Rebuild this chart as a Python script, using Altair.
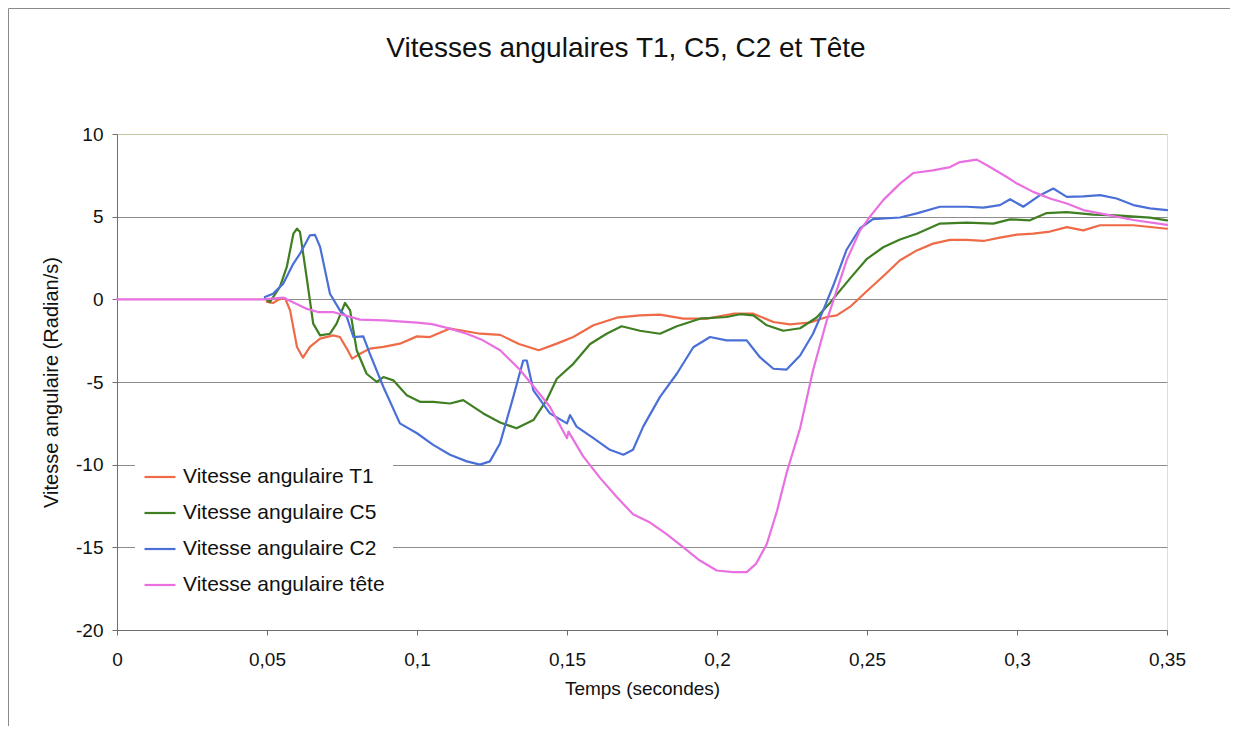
import altair as alt
import pandas as pd

FONT = "Liberation Sans"

chart_title = "Vitesses angulaires T1, C5, C2 et Tête"
series_names = ["Vitesse angulaire T1", "Vitesse angulaire C5",
                "Vitesse angulaire C2", "Vitesse angulaire tête"]
series_colors = ["#ef6a47", "#3f7f22", "#4a70d8", "#e870e0"]
series_widths = [2.2, 2.2, 2.2, 1.4]

x_ticks = [0, 0.05, 0.1, 0.15, 0.2, 0.25, 0.3, 0.35]
y_ticks = [-20, -15, -10, -5, 0, 5, 10]

t1_t = [0.050, 0.052, 0.054, 0.056, 0.0577, 0.060, 0.062, 0.0643, 0.0677, 0.072,
        0.0743, 0.0766, 0.0784, 0.081, 0.0843, 0.0888, 0.0943, 0.100, 0.1043, 0.111,
        0.1154, 0.121, 0.1277, 0.134, 0.1406, 0.1466, 0.1521, 0.1588, 0.1666, 0.1743,
        0.181, 0.1888, 0.1966, 0.2054, 0.2121, 0.2188, 0.2243, 0.231, 0.2366, 0.2399,
        0.2443, 0.250, 0.2554, 0.261, 0.2666, 0.272, 0.2777, 0.2832, 0.2888, 0.2943,
        0.300, 0.3054, 0.311, 0.3166, 0.3221, 0.3277, 0.3388, 0.350]
t1_v = [-0.16, -0.22, 0.0, 0.08, -0.67, -2.88, -3.53, -2.88, -2.38, -2.18,
        -2.28, -2.98, -3.59, -3.29, -2.98, -2.88, -2.68, -2.24, -2.28, -1.77,
        -1.9, -2.08, -2.15, -2.7, -3.08, -2.68, -2.28, -1.57, -1.11, -0.97,
        -0.93, -1.17, -1.17, -0.87, -0.87, -1.37, -1.51, -1.40, -1.07, -0.97,
        -0.46, 0.5, 1.4, 2.36, 2.96, 3.37, 3.6, 3.6, 3.53, 3.73,
        3.91, 3.97, 4.1, 4.37, 4.17, 4.48, 4.48, 4.27]

c5_t = [0.0493, 0.051, 0.0543, 0.0566, 0.0588, 0.060, 0.061, 0.0632, 0.0654, 0.0677,
        0.071, 0.0732, 0.076, 0.0777, 0.0799, 0.0832, 0.0866, 0.0888, 0.0921, 0.0966,
        0.101, 0.1054, 0.111, 0.1154, 0.1221, 0.1277, 0.1332, 0.1388, 0.1432, 0.1466,
        0.1521, 0.1577, 0.1632, 0.1682, 0.1743, 0.181, 0.1866, 0.1943, 0.2032, 0.2077,
        0.2121, 0.2166, 0.2221, 0.2277, 0.2332, 0.2377, 0.2443, 0.250, 0.2554, 0.261,
        0.2666, 0.2743, 0.2832, 0.2921, 0.2977, 0.3043, 0.3099, 0.3166, 0.3254, 0.3332,
        0.3443, 0.350]
c5_v = [0.04, -0.16, 0.75, 1.96, 3.97, 4.27, 4.07, 1.35, -1.47, -2.18,
        -2.08, -1.47, -0.22, -0.67, -3.08, -4.5, -5.0, -4.7, -4.9, -5.8,
        -6.2, -6.2, -6.3, -6.1, -6.9, -7.45, -7.8, -7.3, -6.1, -4.8,
        -3.9, -2.7, -2.08, -1.63, -1.9, -2.08, -1.63, -1.17, -1.07, -0.9,
        -0.97, -1.57, -1.9, -1.75, -1.1, -0.2, 1.25, 2.45, 3.15, 3.62,
        3.97, 4.58, 4.64, 4.58, 4.84, 4.78, 5.22, 5.28, 5.12, 5.08,
        4.94, 4.78]

c2_t = [0.0493, 0.052, 0.0554, 0.0588, 0.061, 0.0643, 0.066, 0.0677, 0.071, 0.0743,
        0.0766, 0.0788, 0.0821, 0.0843, 0.0888, 0.0943, 0.100, 0.1054, 0.111, 0.1166,
        0.121, 0.1243, 0.1277, 0.1321, 0.1354, 0.1366, 0.1388, 0.1443, 0.150, 0.151,
        0.1532, 0.1588, 0.1643, 0.1688, 0.172, 0.1754, 0.181, 0.1866, 0.1921, 0.1977,
        0.2032, 0.2099, 0.2143, 0.2188, 0.2232, 0.2277, 0.232, 0.2354, 0.2388, 0.2432,
        0.2477, 0.252, 0.261, 0.2666, 0.2743, 0.2832, 0.2888, 0.2943, 0.2977, 0.3021,
        0.3077, 0.3121, 0.3166, 0.3221, 0.3277, 0.3332, 0.3388, 0.3443, 0.350]
c2_v = [0.14, 0.34, 0.95, 2.16, 2.76, 3.87, 3.9, 3.17, 0.34, -0.67,
        -1.07, -2.28, -2.24, -3.3, -5.3, -7.5, -8.1, -8.8, -9.4, -9.8,
        -10.0, -9.8, -8.7, -5.9, -3.7, -3.7, -5.5, -6.9, -7.5, -7.0,
        -7.7, -8.4, -9.1, -9.4, -9.1, -7.7, -5.9, -4.5, -2.9, -2.28,
        -2.48, -2.48, -3.5, -4.2, -4.25, -3.4, -2.08, -0.67, 0.85, 3.0,
        4.3, 4.85, 4.95, 5.2, 5.6, 5.6, 5.55, 5.7, 6.05, 5.6,
        6.3, 6.7, 6.2, 6.23, 6.3, 6.1, 5.7, 5.5, 5.4]

tete_t = [0.0, 0.049, 0.0555, 0.063, 0.067, 0.072, 0.081, 0.089, 0.100, 0.105,
          0.111, 0.1166, 0.122, 0.1277, 0.134, 0.139, 0.1443, 0.1500, 0.1505, 0.1554,
          0.161, 0.1666, 0.172, 0.1777, 0.1832, 0.1888, 0.1943, 0.1999, 0.2054, 0.2099,
          0.213, 0.2166, 0.220, 0.2232, 0.2277, 0.232, 0.2366, 0.2388, 0.2432, 0.2477,
          0.251, 0.2554, 0.261, 0.2654, 0.272, 0.2777, 0.281, 0.2866, 0.291, 0.2966,
          0.300, 0.3054, 0.311, 0.3166, 0.3221, 0.3277, 0.3388, 0.350]
tete_v = [0, 0, 0.1, -0.56, -0.77, -0.77, -1.23, -1.27, -1.41, -1.5,
          -1.77, -2.08, -2.48, -3.08, -4.2, -5.3, -6.5, -8.4, -8.0, -9.5,
          -10.8, -11.95, -13.0, -13.5, -14.2, -15.0, -15.8, -16.4, -16.5, -16.5,
          -16.0, -14.8, -12.8, -10.5, -7.8, -4.3, -1.27, -0.06, 2.36, 4.17,
          5.0, 6.0, 7.0, 7.64, 7.8, 8.0, 8.3, 8.45, 8.0, 7.4,
          7.0, 6.5, 6.1, 5.8, 5.4, 5.2, 4.8, 4.5]

rows = []
for name, ts, vs in zip(series_names, [t1_t, c5_t, c2_t, tete_t], [t1_v, c5_v, c2_v, tete_v]):
    for i, (t, v) in enumerate(zip(ts, vs)):
        rows.append({"serie": name, "t": t, "v": v, "i": i})
df = pd.DataFrame(rows)

AX = "#6e6e6e"
LBL = "replace(toString(datum.value), '.', ',')"

lines = alt.Chart(df).mark_line(strokeJoin="round", strokeCap="round").encode(
    x=alt.X("t:Q",
            scale=alt.Scale(domain=[0, 0.35], nice=False, zero=False),
            axis=alt.Axis(values=x_ticks, title="Temps (secondes)",
                          labelExpr=LBL,
                          grid=False, tickSize=5, labelPadding=15, titlePadding=10,
                          labelFlush=False, labelOverlap=False,
                          domainColor=AX, tickColor=AX,
                          labelFont=FONT, titleFont=FONT,
                          labelFontSize=19, titleFontSize=19,
                          titleFontWeight="normal",
                          labelColor="#111111", titleColor="#111111")),
    y=alt.Y("v:Q",
            scale=alt.Scale(domain=[-20, 10], nice=False, zero=False),
            axis=alt.Axis(values=y_ticks, title="Vitesse angulaire (Radian/s)",
                          labelExpr=LBL,
                          grid=True,
                          gridColor={"condition": {"test": "datum.value === 10", "value": "#c4c49e"},
                                     "value": "#8c8c8c"},
                          gridWidth=1,
                          tickSize=5, labelPadding=9, titlePadding=14,
                          labelFlush=False, labelOverlap=False,
                          domainColor=AX, tickColor=AX,
                          labelFont=FONT, titleFont=FONT,
                          labelFontSize=19, titleFontSize=20,
                          titleFontWeight="normal",
                          labelColor="#111111", titleColor="#111111")),
    color=alt.Color("serie:N",
                    scale=alt.Scale(domain=series_names, range=series_colors),
                    sort=series_names,
                    legend=alt.Legend(title=None, orient="none", legendX=18, legendY=318,
                                      fillColor="white", padding=8,
                                      symbolType="stroke", symbolSize=961,
                                      symbolStrokeWidth=2, labelOffset=6,
                                      rowPadding=9, labelFont=FONT, labelFontSize=21,
                                      labelColor="#111111", labelLimit=400)),
    strokeWidth=alt.StrokeWidth("serie:N",
                                scale=alt.Scale(domain=series_names, range=series_widths),
                                legend=None),
    order=alt.Order("i:Q"),
)

one = pd.DataFrame({"label": [chart_title]})
frame_left = alt.Chart(one).mark_rule(color="#8a8a8a", strokeWidth=1).encode(
    x=alt.value(-108.5), y=alt.value(-125.5), y2=alt.value(620))
frame_top = alt.Chart(one).mark_rule(color="#8a8a8a", strokeWidth=1).encode(
    x=alt.value(-108.5), x2=alt.value(1125), y=alt.value(-125.5))
title_mark = alt.Chart(one).mark_text(font=FONT, fontSize=28, color="#111111",
                                      align="center", baseline="alphabetic").encode(
    text="label:N", x=alt.value(509), y=alt.value(-77))

chart = alt.layer(frame_left, frame_top, title_mark, lines).properties(
    width=1050, height=496,
    padding={"left": 109, "top": 126, "right": 63, "bottom": 96},
    autosize=alt.AutoSizeParams(type="none"),
).configure_view(stroke="#c4c49e", strokeWidth=1).configure(background="white")

chart.save("out.html", embed_options={"renderer": "svg", "actions": False})
